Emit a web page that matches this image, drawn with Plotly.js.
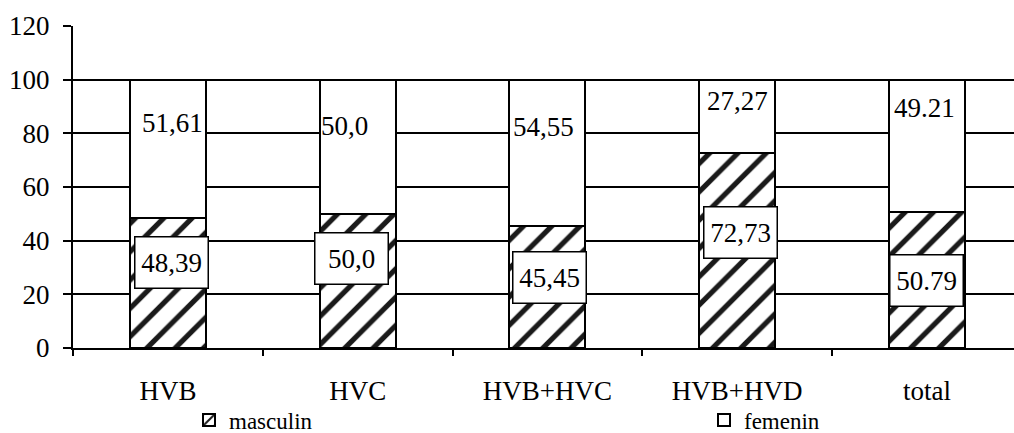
<!DOCTYPE html>
<html>
<head>
<meta charset="utf-8">
<script src="https://cdn.plot.ly/plotly-3.0.1.min.js"></script>
<style>
  html, body { margin: 0; padding: 0; background: #fff; }
  #chart { width: 1014px; height: 433px; }
</style>
</head>
<body>
<div id="chart"></div>
<script>
// Distribution by sex (%) per hepatitis group
const categories = ['HVB', 'HVC', 'HVB+HVC', 'HVB+HVD', 'total'];
const masculin = [48.39, 50.0, 45.45, 72.73, 50.79];
const femenin = [51.61, 50.0, 54.55, 27.27, 49.21];
const decimalSep = [',', ',', ',', ',', '.'];
const yTicks = [0, 20, 40, 60, 80, 100, 120];

// Label placement inside the bars (y in axis units, shift in px)
const maleLabelY = [31.7, 33.2, 26.1, 43.0, 25.3];
const maleLabelShift = [4, -6, 2, 3, 0];
const femLabelY = [83.9, 82.9, 82.4, 92.1, 89.3];
const femLabelShift = [5, -13, -4, 0, -2];

const FONT = 'Liberation Serif';

function fmt(v, i) {
  const d = Number.isInteger(v) ? 1 : 2;
  return v.toFixed(d).replace('.', decimalSep[i]);
}

const traces = [
  {
    type: 'bar', name: 'masculin', x: categories, y: masculin, width: 0.4,
    legend: 'legend',
    marker: {
      color: '#fff',
      line: { color: '#000', width: 2 },
      pattern: { shape: '/', fgcolor: '#1a1a1a', bgcolor: '#fff', size: 20, solidity: 0.26 }
    },
    hoverinfo: 'skip'
  },
  {
    type: 'bar', name: 'femenin', x: categories, y: femenin, width: 0.4,
    legend: 'legend2',
    marker: { color: '#fff', line: { color: '#000', width: 2 } },
    hoverinfo: 'skip'
  }
];

const annotations = [];
categories.forEach((c, i) => {
  annotations.push({
    x: c, y: maleLabelY[i], xref: 'x', yref: 'y',
    text: fmt(masculin[i], i), showarrow: false,
    xshift: maleLabelShift[i],
    font: { family: FONT, size: 27, color: '#000' },
    bgcolor: '#fff', bordercolor: '#000', borderwidth: 1.5, borderpad: 1,
    width: 70, height: 48, xanchor: 'center', yanchor: 'middle'
  });
  annotations.push({
    x: c, y: femLabelY[i], xref: 'x', yref: 'y',
    text: fmt(femenin[i], i), showarrow: false,
    xshift: femLabelShift[i],
    font: { family: FONT, size: 27, color: '#000' },
    xanchor: 'center', yanchor: 'middle'
  });
});

const legendBase = {
  orientation: 'h', xref: 'container', yref: 'container',
  xanchor: 'left', yanchor: 'middle', y: 0.03,
  font: { family: FONT, size: 23, color: '#000' },
  bgcolor: 'rgba(0,0,0,0)', borderwidth: 0
};

const layout = {
  width: 1014, height: 433,
  margin: { l: 73, r: 0, t: 26, b: 85 },
  paper_bgcolor: '#fff', plot_bgcolor: '#fff',
  barmode: 'stack',
  font: { family: FONT, size: 27, color: '#000' },
  showlegend: true,
  legend: Object.assign({}, legendBase, { x: 189 / 1014 }),
  legend2: Object.assign({}, legendBase, { x: 704 / 1014 }),
  xaxis: {
    type: 'category', range: [-0.5, 4.459],
    showline: true, linecolor: '#000', linewidth: 2,
    ticks: 'outside', tickson: 'boundaries', ticklen: 6, tickwidth: 2, tickcolor: '#000',
    ticklabelstandoff: 18,
    showgrid: false, zeroline: false,
    tickfont: { family: FONT, size: 27, color: '#000' }
  },
  yaxis: {
    range: [0, 120], tickvals: yTicks,
    showline: true, linecolor: '#000', linewidth: 2,
    ticks: 'outside', ticklen: 8, tickwidth: 2, tickcolor: '#000',
    ticklabelstandoff: 8,
    showgrid: true, gridcolor: '#000', gridwidth: 2,
    zeroline: false,
    tickfont: { family: FONT, size: 27, color: '#000' }
  },
  annotations: annotations
};

Plotly.newPlot('chart', traces, layout, { staticPlot: true, displayModeBar: false });
</script>
</body>
</html>
